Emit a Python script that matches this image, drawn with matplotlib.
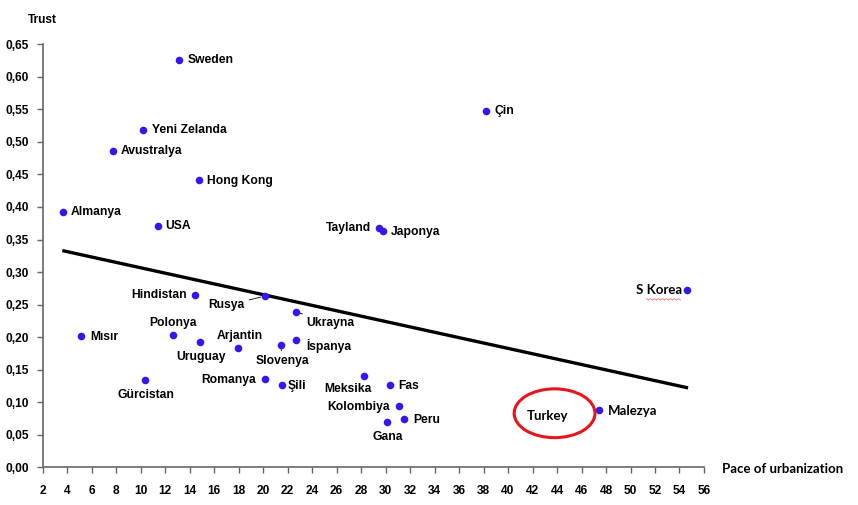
import matplotlib
matplotlib.use('Agg')
import matplotlib.pyplot as plt
from matplotlib.patches import Ellipse
from matplotlib.ticker import FuncFormatter, MultipleLocator
from matplotlib.transforms import Affine2D

# data
countries = ['Sweden', 'Yeni Zelanda', 'Avustralya', 'Hong Kong', 'Almanya', 'USA',
             'Tayland', 'Japonya', 'Çin', 'S Korea', 'Malezya', 'Hindistan', 'Rusya',
             'Ukrayna', 'Polonya', 'Mısır', 'Uruguay', 'Arjantin', 'Slovenya', 'İspanya',
             'Gürcistan', 'Romanya', 'Şili', 'Meksika', 'Fas', 'Kolombiya', 'Peru', 'Gana']
urbanization = [13.13, 10.21, 7.71, 14.76, 3.66, 11.39,
                29.45, 29.75, 38.16, 54.65, 47.41, 14.43, 20.15,
                22.65, 12.61, 5.13, 14.87, 17.97, 21.43, 22.70,
                10.35, 20.12, 21.51, 28.2, 30.33, 31.11, 31.49, 30.08]
trust = [0.626, 0.519, 0.486, 0.441, 0.392, 0.370,
         0.367, 0.363, 0.548, 0.273, 0.088, 0.265, 0.263,
         0.239, 0.203, 0.201, 0.193, 0.184, 0.188, 0.195,
         0.134, 0.136, 0.126, 0.140, 0.127, 0.094, 0.074, 0.069]
trend_x = [3.6, 54.7]
trend_y = [0.333, 0.122]
turkey_x, turkey_y = 43.8, 0.083

# label offsets in pixels (dx right, dy down) and alignment
label_pos = {
    'Sweden': (9, 0, 'left'), 'Yeni Zelanda': (9, 0, 'left'), 'Avustralya': (8, 0, 'left'),
    'Hong Kong': (8, 1, 'left'), 'Almanya': (8, 0, 'left'), 'USA': (8, 0, 'left'),
    'Tayland': (-8, 0, 'right'), 'Japonya': (8, 1, 'left'), 'Çin': (9, 0, 'left'),
    'S Korea': (-5, 0, 'right'), 'Malezya': (9, 1, 'left'), 'Hindistan': (-8, 0, 'right'),
    'Rusya': (-20, 9, 'right'), 'Ukrayna': (11, 11, 'left'), 'Polonya': (0, -12, 'center'),
    'Mısır': (9, 1, 'left'), 'Uruguay': (1, 15, 'center'), 'Arjantin': (1, -12, 'center'),
    'Slovenya': (2, 16, 'center'), 'İspanya': (10, 6, 'left'), 'Gürcistan': (1, 15, 'center'),
    'Romanya': (-9, 1, 'right'), 'Şili': (6, 1, 'left'), 'Meksika': (-16, 13, 'center'),
    'Fas': (9, 1, 'left'), 'Kolombiya': (-9, 1, 'right'), 'Peru': (9, 1, 'left'),
    'Gana': (1, 15, 'center'),
}
leaders = ['Rusya', 'Ukrayna', 'Slovenya']
calibri_like = ['S Korea', 'Malezya']

plt.rcParams['font.family'] = ['Liberation Sans', 'DejaVu Sans']
plt.rcParams['font.weight'] = 'bold'

fig = plt.figure(figsize=(8.58, 5.05), dpi=100)
ax = fig.add_axes([0.0498, 0.0747, 0.7707, 0.8376])
ax.set_xlim(2, 56)
ax.set_ylim(0, 0.65)

ax.plot(trend_x, trend_y, color='black', lw=2.4, solid_capstyle='butt', zorder=2)
ax.scatter(urbanization, trust, s=30, color='#3a14f0', zorder=3, linewidths=0)

for name, x, y in zip(countries, urbanization, trust):
    dx, dy, ha = label_pos[name]
    props = None
    if name in leaders:
        props = dict(arrowstyle='-', lw=0.7, color='#222', shrinkA=1, shrinkB=3)
    kw = dict(fontsize=8.7)
    if name in calibri_like:
        kw = dict(fontsize=9.5, family='Lato')
    ax.annotate(name, (x, y), xytext=(dx * 0.72, -dy * 0.72), textcoords='offset points',
                ha=ha, va='center', fontweight='bold', arrowprops=props, **kw)

# red spell-check squiggle under "Korea" (pixel offsets from the S Korea dot)
i = countries.index('S Korea')
sq_x = [-41 + k * 2 for k in range(18)]
sq_y = [-9 - (k % 2) * 1.5 for k in range(18)]
base = ax.transData.transform((urbanization[i], trust[i]))
ax.plot(sq_x, sq_y, color='#e85050', lw=0.6, alpha=0.8,
        transform=Affine2D().translate(*base), clip_on=False, zorder=4)

ax.add_patch(Ellipse((turkey_x, turkey_y), 6.6, 0.075, fill=False, ec='#e8141c', lw=2.2, zorder=4))
ax.text(turkey_x - 0.6, turkey_y - 0.004, 'Turkey', ha='center', va='center',
        fontsize=9.5, fontweight='bold', family='Lato')

ax.xaxis.set_major_locator(MultipleLocator(2))
ax.yaxis.set_major_locator(MultipleLocator(0.05))
ax.yaxis.set_major_formatter(FuncFormatter(lambda v, p: f'{v:.2f}'.replace('.', ',')))
for s in ['top', 'right']:
    ax.spines[s].set_visible(False)
for s in ['left', 'bottom']:
    ax.spines[s].set_color('#666')
    ax.spines[s].set_linewidth(1.2)
ax.tick_params(direction='out', length=4, width=1, color='#666', labelsize=8.6, pad=6)
ax.tick_params(axis='x', pad=9)

fig.text(28 / 858, 1 - 20 / 505, 'Trust', ha='left', va='center', fontsize=8.6, fontweight='bold')
fig.text(722 / 858, 1 - 469 / 505, 'Pace of urbanization', ha='left', va='center',
         fontsize=9.5, fontweight='bold', family='Lato')

fig.savefig('out.png', dpi=100)
